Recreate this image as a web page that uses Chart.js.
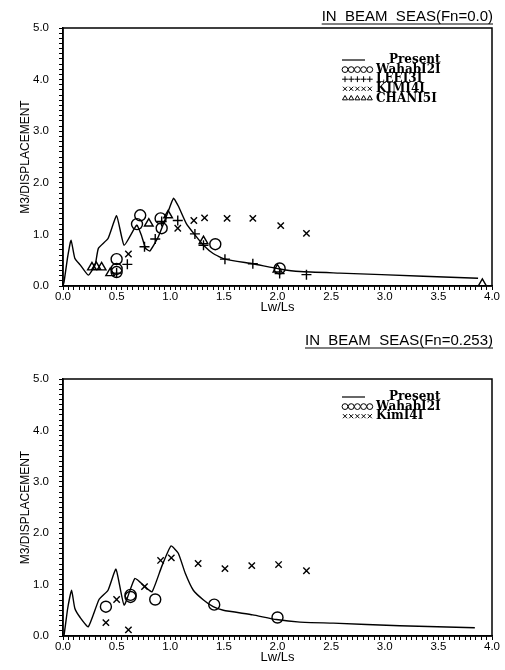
<!DOCTYPE html>
<html>
<head>
<meta charset="utf-8">
<script src="https://cdn.jsdelivr.net/npm/chart.js@4.4.0/dist/chart.umd.min.js"></script>
<style>
  body { margin: 0; background: #fff; }
  .box { position: absolute; left: 0; width: 505px; }
</style>
</head>
<body>
<div class="box" style="top:0;height:320px"><canvas id="c1" width="505" height="320"></canvas></div>
<div class="box" style="top:335px;height:335px"><canvas id="c2" width="505" height="335"></canvas></div>
<script>
// Fn = 0.0
const presentX1 = [0.0, 0.01, 0.044, 0.075, 0.11, 0.16, 0.236, 0.30, 0.33, 0.42, 0.50, 0.57, 0.687, 0.73, 0.77, 0.81, 0.89, 0.98, 1.03, 1.075, 1.15, 1.23, 1.31, 1.40, 1.51, 1.77, 2.02, 2.21, 2.58, 3.36, 3.87];
const presentY1 = [0.0, 0.08, 0.57, 0.89, 0.54, 0.41, 0.21, 0.41, 0.73, 0.92, 1.36, 0.79, 1.18, 0.99, 0.73, 0.68, 0.96, 1.44, 1.70, 1.55, 1.21, 0.99, 0.79, 0.63, 0.52, 0.43, 0.33, 0.28, 0.25, 0.19, 0.15];
const wahabX1 = [0.50, 0.50, 0.50, 0.69, 0.72, 0.91, 0.92, 1.42, 2.02];
const wahabY1 = [0.27, 0.33, 0.52, 1.20, 1.37, 1.31, 1.12, 0.81, 0.34];
const leeX1 = [0.50, 0.60, 0.76, 0.86, 0.92, 1.07, 1.23, 1.31, 1.51, 1.77, 2.02, 2.27];
const leeY1 = [0.25, 0.42, 0.76, 0.91, 1.25, 1.27, 1.01, 0.79, 0.52, 0.43, 0.24, 0.22];
const kimX1 = [0.61, 1.07, 1.22, 1.32, 1.53, 1.77, 2.03, 2.27];
const kimY1 = [0.62, 1.12, 1.27, 1.32, 1.31, 1.31, 1.17, 1.02];
const chanX1 = [0.27, 0.31, 0.36, 0.44, 0.80, 0.98, 1.31, 2.00, 3.91];
const chanY1 = [0.36, 0.37, 0.36, 0.25, 1.21, 1.37, 0.87, 0.32, 0.04];

// Fn = 0.253
const presentX2 = [0.0, 0.01, 0.044, 0.08, 0.11, 0.16, 0.236, 0.336, 0.42, 0.494, 0.57, 0.67, 0.765, 0.83, 0.92, 1.007, 1.075, 1.14, 1.215, 1.31, 1.40, 1.495, 1.77, 1.99, 2.21, 2.52, 3.14, 3.84];
const presentY2 = [0.0, 0.02, 0.54, 0.89, 0.54, 0.36, 0.18, 0.71, 0.89, 1.30, 0.60, 1.12, 0.96, 0.86, 1.35, 1.75, 1.61, 1.22, 0.89, 0.70, 0.57, 0.50, 0.41, 0.32, 0.27, 0.25, 0.20, 0.16];
const wahabX2 = [0.40, 0.63, 0.63, 0.86, 1.41, 2.00];
const wahabY2 = [0.57, 0.80, 0.76, 0.71, 0.61, 0.36];
const kimX2 = [0.40, 0.50, 0.61, 0.76, 0.91, 1.01, 1.26, 1.51, 1.76, 2.01, 2.27];
const kimY2 = [0.26, 0.71, 0.12, 0.96, 1.47, 1.52, 1.41, 1.31, 1.37, 1.39, 1.27];

const titles = ['IN  BEAM  SEAS(Fn=0.0)', 'IN  BEAM  SEAS(Fn=0.253)'];
const xLabel = 'Lw/Ls';
const yLabel = 'M3/DISPLACEMENT';

const pts = (xs, ys) => xs.map((x, i) => ({ x: x, y: ys[i] }));

function lineSet(label, xs, ys) {
  return { label, data: pts(xs, ys), showLine: true, borderColor: '#000', borderWidth: 1.4, pointRadius: 0, tension: 0.15 };
}
function markSet(label, xs, ys, style, r) {
  return { label, data: pts(xs, ys), showLine: false, pointStyle: style, pointRadius: r,
    borderColor: '#000', backgroundColor: 'rgba(0,0,0,0)', pointBorderWidth: 1.4 };
}

// box, title with underline, and legend with 5-marker samples
const frame = {
  id: 'frame',
  afterDraw(chart, args, o) {
    const ctx = chart.ctx, a = chart.chartArea;
    ctx.save();
    ctx.strokeStyle = '#000';
    ctx.lineWidth = 1.5;
    ctx.strokeRect(a.left, a.top, a.right - a.left, a.bottom - a.top);

    ctx.font = '15px "Liberation Sans"';
    ctx.fillStyle = '#000';
    ctx.textAlign = 'right';
    ctx.textBaseline = 'alphabetic';
    ctx.fillText(o.title, a.right + 1, o.titleY);
    const w = ctx.measureText(o.title).width;
    ctx.lineWidth = 1;
    ctx.beginPath();
    ctx.moveTo(a.right + 1 - w, o.titleY + 3);
    ctx.lineTo(a.right + 1, o.titleY + 3);
    ctx.stroke();

    chart.data.datasets.forEach((ds, i) => {
      const y = o.legendY + i * 9.6;
      const x0 = 342;
      ctx.textAlign = 'left';
      ctx.textBaseline = 'middle';
      ctx.fillStyle = '#000';
      ctx.font = 'bold 12px "DejaVu Serif"';
      if (ds.showLine) {
        ctx.lineWidth = 1.2;
        ctx.beginPath();
        ctx.moveTo(x0, y);
        ctx.lineTo(x0 + 23, y);
        ctx.stroke();
        ctx.fillText(ds.label, 389, y);
      } else {
        ctx.fillStyle = 'rgba(0,0,0,0)';
        ctx.lineWidth = 1;
        for (let k = 0; k < 5; k++) {
          Chart.helpers.drawPoint(ctx, { pointStyle: ds.pointStyle, radius: 2.9, borderWidth: 1 }, x0 + 3 + k * 6.2, y);
        }
        ctx.fillStyle = '#000';
        ctx.textAlign = 'left';
        ctx.fillText(ds.label, 376, y);
      }
    });
    ctx.restore();
  }
};

function makeChart(id, datasets, opt) {
  return new Chart(document.getElementById(id), {
    type: 'scatter',
    data: { datasets },
    options: {
      responsive: false,
      animation: false,
      layout: { padding: { top: opt.top, right: 13, left: 0, bottom: 0 } },
      plugins: { legend: { display: false }, tooltip: { enabled: false }, frame: opt },
      scales: {
        x: {
          type: 'linear', min: 0, max: 4,
          afterFit: s => { s.height = 34; },
          border: { display: true, color: '#000', width: 1.5 },
          grid: { drawOnChartArea: false, drawTicks: true, tickLength: 4, color: '#000' },
          ticks: {
            stepSize: 0.05, autoSkip: false, maxRotation: 0, padding: 0, color: '#000',
            font: { family: 'Liberation Sans', size: 11.5 },
            callback: v => Math.abs(v * 2 - Math.round(v * 2)) < 1e-6 ? v.toFixed(1) : ''
          },
          title: { display: true, text: xLabel, color: '#000', font: { family: 'Liberation Sans', size: 13 }, padding: { top: 0, bottom: 5 } }
        },
        y: {
          type: 'linear', min: 0, max: 5,
          afterFit: s => { s.width = 63; },
          border: { display: true, color: '#000', width: 1.5 },
          grid: { drawOnChartArea: false, drawTicks: true, tickLength: 4, color: '#000' },
          ticks: {
            stepSize: 0.1, autoSkip: false, padding: 10, color: '#000',
            font: { family: 'Liberation Sans', size: 11.5 },
            callback: v => Math.abs(v - Math.round(v)) < 1e-6 ? v.toFixed(1) : ''
          },
          title: { display: true, text: yLabel, color: '#000', font: { family: 'Liberation Sans', size: 12 }, padding: { top: 18, bottom: 0 } }
        }
      }
    },
    plugins: [frame]
  });
}

makeChart('c1', [
  lineSet('Present', presentX1, presentY1),
  markSet('WahabI2I', wahabX1, wahabY1, 'circle', 5.5),
  markSet('LEEI3I', leeX1, leeY1, 'cross', 5),
  markSet('KIMI4I', kimX1, kimY1, 'crossRot', 4.5),
  markSet('CHANI5I', chanX1, chanY1, 'triangle', 5)
], { top: 28, title: titles[0], titleY: 21, legendY: 60 });

makeChart('c2', [
  lineSet('Present', presentX2, presentY2),
  markSet('WahabI2I', wahabX2, wahabY2, 'circle', 5.5),
  markSet('KimI4I', kimX2, kimY2, 'crossRot', 4.5)
], { top: 44, title: titles[1], titleY: 10, legendY: 62 });
</script>
</body>
</html>
